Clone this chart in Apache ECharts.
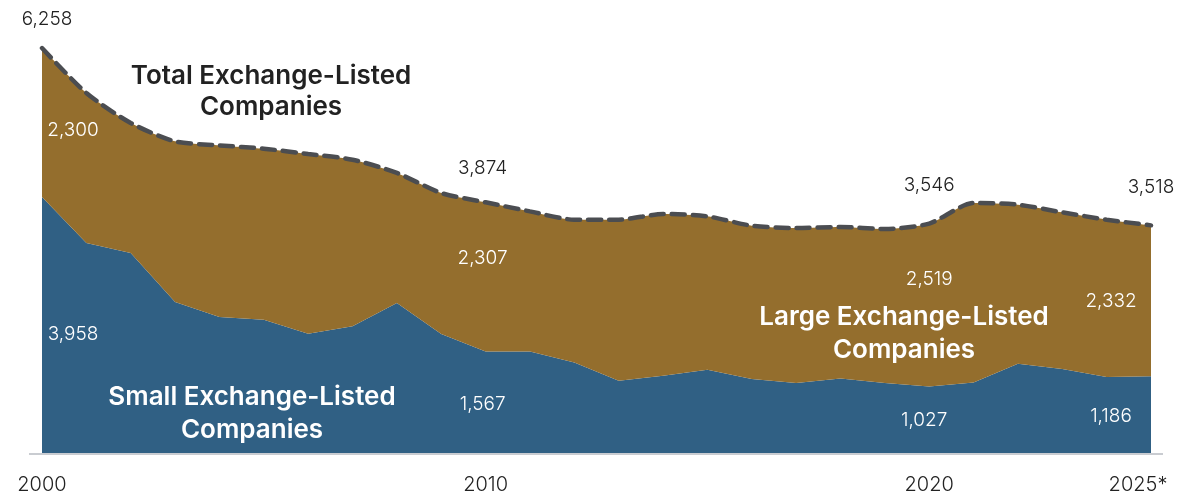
<!DOCTYPE html>
<html>
<head>
<meta charset="utf-8">
<script src="https://cdn.jsdelivr.net/npm/echarts@6/dist/echarts.min.js"></script>
<style>
html,body{margin:0;padding:0;background:#fff;}
#c{width:1181px;height:495px;}
</style>
</head>
<body>
<div id="c"></div>
<script>
const years = ['2000','2001','2002','2003','2004','2005','2006','2007','2008','2009','2010','2011','2012','2013','2014','2015','2016','2017','2018','2019','2020','2021','2022','2023','2024','2025'];
const xTickLabels = {'2000':'2000','2010':'2010','2020':'2020','2025':'2025*'};
const smallCos = [3958,3246,3091,2334,2102,2060,1844,1957,2318,1839,1567,1570,1400,1117,1195,1288,1144,1082,1153,1082,1027,1091,1380,1298,1175,1186];
const largeCos = [2300,2318,2009,2482,2652,2643,2777,2576,2010,2179,2307,2164,2206,2489,2499,2369,2369,2395,2340,2380,2519,2773,2458,2421,2431,2332];
const totalCos = [6258,5564,5100,4816,4754,4703,4621,4533,4328,4018,3874,3734,3606,3606,3694,3657,3513,3477,3493,3462,3546,3864,3838,3719,3606,3518];
const labeledIdx = [0,10,20,25];

const FONT = 'Inter';
const fmt = v => v.toLocaleString('en-US');

function withLabels(arr, offsets, color) {
  return arr.map((v, i) => {
    const k = labeledIdx.indexOf(i);
    if (k < 0) return v;
    return {
      value: v,
      label: {
        show: true, position: 'inside', offset: offsets[k],
        formatter: () => fmt(v),
        color: color, fontFamily: FONT, fontSize: 19, fontWeight: 300
      }
    };
  });
}

const chart = echarts.init(document.getElementById('c'), null, {renderer: 'canvas'});
chart.setOption({
  animation: false,
  grid: {left: 42, right: 30, top: 32.4, bottom: 42},
  xAxis: {
    type: 'category', data: years, boundaryGap: false,
    axisLine: {show: false}, axisTick: {show: false},
    axisLabel: {
      interval: 0, margin: 22,
      formatter: (v) => v === '2025' ? '{r|2025*}' : (xTickLabels[v] || ''),
      color: '#222', fontFamily: FONT, fontSize: 20, fontWeight: 300,
      rich: {r: {color: '#222', fontFamily: FONT, fontSize: 20, fontWeight: 300, padding: [0, 26, 0, 0]}}
    },
    splitLine: {show: false}
  },
  yAxis: {type: 'value', min: 0, max: 6500, show: false},
  series: [
    {
      name: 'Small', type: 'line', stack: 'cos',
      data: withLabels(smallCos, [[31,137],[-3,53],[-5,34],[-40,40]], '#ffffff'),
      symbol: 'circle', symbolSize: 0, showSymbol: true, showAllSymbol: true,
      lineStyle: {width: 0}, itemStyle: {color: '#306084'},
      areaStyle: {color: '#306084', opacity: 1},
      z: 2
    },
    {
      name: 'Large', type: 'line', stack: 'cos', smooth: 0.25,
      data: withLabels(largeCos, [[31,82],[-3,56],[0,56],[-40,76]], '#ffffff'),
      symbol: 'circle', symbolSize: 0, showSymbol: true, showAllSymbol: true,
      lineStyle: {width: 0}, itemStyle: {color: '#946e2d'},
      areaStyle: {color: '#946e2d', opacity: 1},
      z: 2
    },
    {
      name: 'Total', type: 'line', smooth: 0.25,
      data: withLabels(totalCos, [[5,-29],[-3,-34],[0,-38],[0,-38]], '#222222'),
      symbol: 'circle', symbolSize: 0, showSymbol: true, showAllSymbol: true,
      lineStyle: {width: 4.5, color: '#4b4d51', type: [13, 8], cap: 'round'},
      itemStyle: {color: '#4b4d51'},
      z: 3
    }
  ],
  graphic: [
    {type: 'line', shape: {x1: 29, y1: 454, x2: 1163, y2: 454}, style: {stroke: '#c9ccd1', lineWidth: 2}, z: 1},
    {type: 'text', x: 271, y: 92, style: {text: 'Total Exchange-Listed\nCompanies', fill: '#222', font: '600 26px Inter', align: 'center', verticalAlign: 'middle', lineHeight: 31}, z: 10},
    {type: 'text', x: 252, y: 414, style: {text: 'Small Exchange-Listed\nCompanies', fill: '#fff', font: '600 26px Inter', align: 'center', verticalAlign: 'middle', lineHeight: 33}, z: 10},
    {type: 'text', x: 904, y: 334, style: {text: 'Large Exchange-Listed\nCompanies', fill: '#fff', font: '600 26px Inter', align: 'center', verticalAlign: 'middle', lineHeight: 33}, z: 10}
  ]
});
</script>
</body>
</html>
